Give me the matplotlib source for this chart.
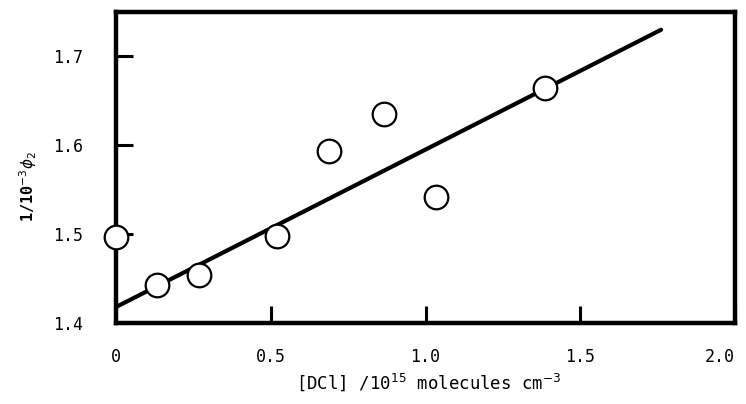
import numpy as np
import matplotlib.pyplot as plt

# values
dcl = [0.0, 0.132, 0.268, 0.519, 0.687, 0.865, 1.035, 1.387]
inv_phi = [1.497, 1.443, 1.454, 1.498, 1.594, 1.635, 1.542, 1.664]

# fitted straight line (end points)
fit_x = [0.0, 1.761]
fit_y = [1.418, 1.730]

xticks = [0, 0.5, 1.0, 1.5, 2.0]
xticklabels = ['0', '0.5', '1.0', '1.5', '2.0']
yticks = [1.4, 1.5, 1.6, 1.7]
yticklabels = ['1.4', '1.5', '1.6', '1.7']

plt.rcParams['font.family'] = ['DejaVu Sans Mono']

fig = plt.figure(figsize=(7.46, 4.04), dpi=100)
ax = fig.add_axes([0.1555, 0.2005, 0.8298, 0.7698])

ax.plot(fit_x, fit_y, color='black', lw=3, solid_capstyle='round', zorder=2)
ax.plot(dcl, inv_phi, 'o', ms=17, mfc='white', mec='black', mew=1.6,
        clip_on=False, zorder=3)

ax.set_xlim(0, 2.0)
ax.set_ylim(1.4, 1.75)

for s in ax.spines.values():
    s.set_linewidth(3.2)

ax.set_xticks(xticks)
ax.set_xticklabels(xticklabels)
ax.set_yticks(yticks)
ax.set_yticklabels(yticklabels)
ax.tick_params(direction='in', length=12, width=2.2, labelsize=12,
               top=False, right=False)
ax.tick_params(axis='x', pad=18)
ax.tick_params(axis='y', pad=24)
ax.get_xticklabels()[-1].set_ha('right')

ax.set_xlabel(r'[DCl] /10$^{15}$ molecules cm$^{-3}$', fontsize=12.5)
ax.xaxis.set_label_coords(0.505, -0.155)
ax.set_ylabel(r'1/10$^{-3}$$\phi_2$', fontsize=11, fontweight='bold')
ax.yaxis.set_label_coords(-0.125, 0.44)

fig.savefig('out.png', dpi=100)
